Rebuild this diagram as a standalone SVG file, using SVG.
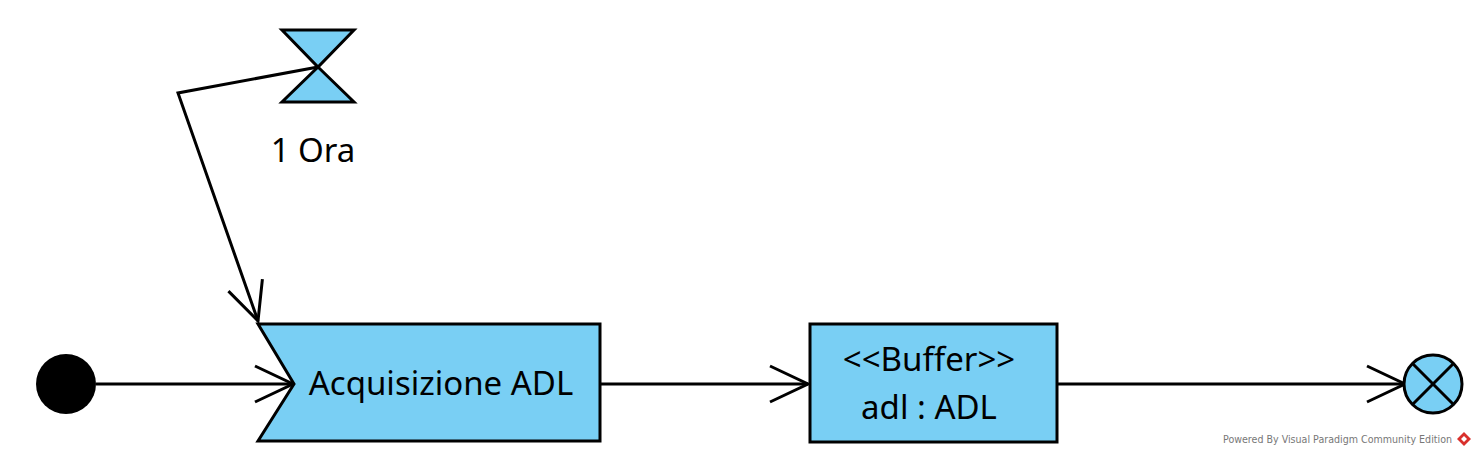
<svg xmlns="http://www.w3.org/2000/svg" width="1476" height="456" viewBox="0 0 1476 456">
<style>
.shape{fill:#79CFF4;stroke:#000;stroke-width:3;stroke-linejoin:miter}
.line{fill:none;stroke:#000;stroke-width:3}
.lbl{font-family:"Noto Sans","Open Sans",sans-serif;font-size:33px;fill:#000;text-anchor:middle}
.wm{font-family:"DejaVu Sans","Noto Sans",sans-serif;font-size:10.5px;fill:#777}
</style>
<defs>
<marker id="open" markerUnits="userSpaceOnUse" markerWidth="50" markerHeight="50" viewBox="-45 -25 50 50" refX="0" refY="0" orient="auto" overflow="visible">
<path d="M-38,-18 L0,0 L-38,18" fill="none" stroke="#000" stroke-width="3"/>
</marker>
</defs>
<rect width="1476" height="456" fill="#fff"/>
<g id="connectors">
<line class="line" x1="96" y1="384" x2="293" y2="384" marker-end="url(#open)"/>
<line class="line" x1="600" y1="384" x2="808" y2="384" marker-end="url(#open)"/>
<line class="line" x1="1058" y1="384" x2="1405" y2="384" marker-end="url(#open)"/>
<polyline class="line" points="318,67 178,93 258,321" marker-end="url(#open)"/>
</g>
<g id="initial">
<circle cx="66" cy="384" r="30" fill="#000"/>
</g>
<g id="timer">
<polygon class="shape" points="282,30 354,30 318,67"/>
<polygon class="shape" points="318,67 282,102 354,102"/>
<text class="lbl" x="313" y="162">1 Ora</text>
</g>
<g id="acquisizione">
<polygon class="shape" points="258,324 600,324 600,441 258,441 294,384"/>
<text class="lbl" x="441" y="395">Acquisizione ADL</text>
</g>
<g id="buffer">
<rect class="shape" x="810" y="324" width="247" height="118"/>
<text class="lbl" x="929" y="371">&lt;&lt;Buffer&gt;&gt;</text>
<text class="lbl" x="929" y="419">adl : ADL</text>
</g>
<g id="final">
<circle class="shape" cx="1433" cy="384" r="29"/>
<line class="line" x1="1412.5" y1="363.5" x2="1453.5" y2="404.5"/>
<line class="line" x1="1453.5" y1="363.5" x2="1412.5" y2="404.5"/>
</g>
<g id="watermark">
<text class="wm" x="1223" y="443" textLength="229" lengthAdjust="spacingAndGlyphs">Powered By  Visual Paradigm Community Edition</text>
<polygon points="1464,432 1471,439 1464,446 1457,439" fill="#d9302c"/>
<polygon points="1464,436 1467,439 1464,442 1461,439" fill="#fff"/>
</g>
</svg>
